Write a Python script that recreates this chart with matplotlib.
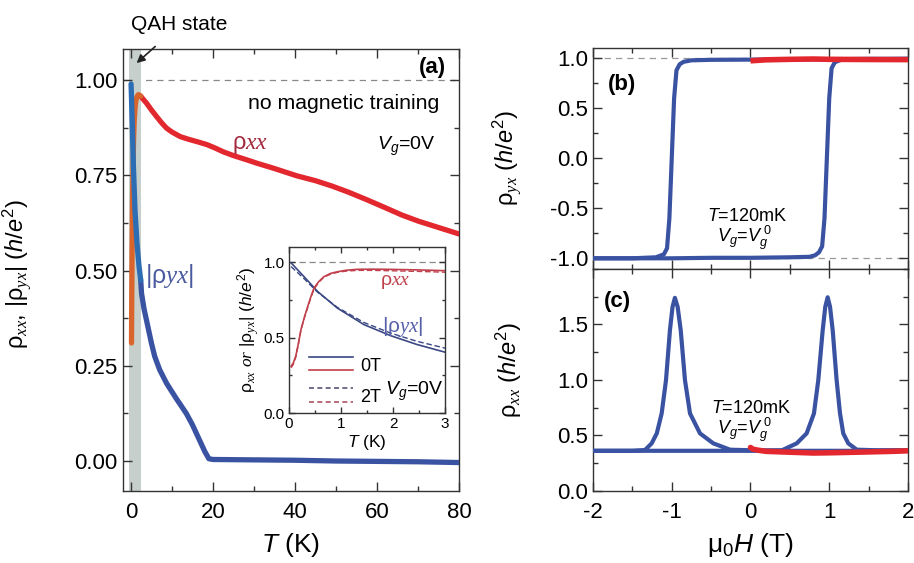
import matplotlib
matplotlib.use("Agg")
import matplotlib.pyplot as plt
import numpy as np
from matplotlib.ticker import MultipleLocator, FormatStrFormatter
from matplotlib.legend_handler import HandlerBase
from matplotlib.lines import Line2D

plt.rcParams['font.family'] = ['Liberation Sans', 'DejaVu Sans']
plt.rcParams['mathtext.fontset'] = 'custom'
plt.rcParams['mathtext.rm'] = 'Liberation Sans'
plt.rcParams['mathtext.it'] = 'Liberation Sans:italic'
plt.rcParams['mathtext.bf'] = 'Liberation Sans:bold'
plt.rcParams['mathtext.sf'] = 'Liberation Serif:italic'

# ---------------- data: panel (a) ----------------
qah_T_range = [-0.4, 2.4]
T_split = 2.4

T_xx = [0.15, 0.2, 0.3, 0.4, 0.5, 0.65, 0.8, 1.0, 1.2, 1.5, 1.8, 2.1, 2.4, 3.0, 3.8, 5.0, 6.3,
        7.5, 8.7, 10, 12, 14, 16, 18.5, 20.5, 22.5, 25, 28.2, 31, 34.7, 40.4, 45, 49, 53, 57.5,
        62, 66, 70, 75, 80]
rho_xx_T = [0.31, 0.40, 0.55, 0.68, 0.76, 0.84, 0.89, 0.925, 0.945, 0.957, 0.962, 0.961, 0.958,
            0.95, 0.94, 0.922, 0.904, 0.888, 0.874, 0.864, 0.852, 0.845, 0.839, 0.831, 0.822,
            0.812, 0.802, 0.791, 0.781, 0.769, 0.749, 0.736, 0.722, 0.706, 0.686, 0.665, 0.646,
            0.63, 0.613, 0.596]

T_yx = [0.05, 0.3, 0.6, 1.0, 1.5, 2.0, 2.4, 2.6, 3.2, 3.8, 5.0, 5.8, 7.0, 8.7, 11, 13.5, 15,
        16.5, 18, 19, 20, 30, 40, 50, 60, 70, 80]
rho_yx_T = [0.99, 0.90, 0.78, 0.66, 0.57, 0.51, 0.475, 0.44, 0.40, 0.37, 0.31, 0.275, 0.24,
            0.204, 0.165, 0.125, 0.095, 0.06, 0.025, 0.006, 0.004, 0.003, 0.002, 0.0, -0.001,
            -0.002, -0.004]

# inset (0-3 K)
T_in_xx = [0.04, 0.08, 0.13, 0.18, 0.23, 0.3, 0.36, 0.42, 0.48, 0.57, 0.67, 0.8, 0.93, 1.1,
           1.31, 1.6, 1.9, 2.5, 3.0]
xx_0T = [0.31, 0.33, 0.377, 0.46, 0.553, 0.64, 0.706, 0.77, 0.827, 0.87, 0.903, 0.925, 0.936,
         0.946, 0.952, 0.953, 0.952, 0.948, 0.943]
xx_2T = [0.30, 0.32, 0.37, 0.455, 0.55, 0.635, 0.70, 0.765, 0.82, 0.865, 0.90, 0.92, 0.932,
         0.94, 0.945, 0.945, 0.943, 0.938, 0.933]
T_in_yx = [0.04, 0.29, 0.55, 0.93, 1.44, 1.95, 2.46, 3.0]
yx_0T = [0.995, 0.903, 0.805, 0.695, 0.586, 0.513, 0.454, 0.403]
yx_2T = [0.97, 0.89, 0.80, 0.70, 0.60, 0.53, 0.475, 0.43]

# ---------------- data: panels (b), (c) ----------------
H_down_yx = [2.0, 1.5, 1.0, 0.5, 0.0, -0.5, -0.75, -0.85, -0.9, -0.94, -0.97, -1.0, -1.03,
             -1.06, -1.1, -1.2, -1.5, -2.0]
rho_yx_down = [0.995, 0.995, 0.99, 0.99, 0.987, 0.985, 0.98, 0.965, 0.94, 0.88, 0.6, 0.0, -0.6,
               -0.9, -0.96, -0.99, -1.0, -1.0]
H_up_yx = [-2.0, -1.5, -1.0, -0.5, 0.0, 0.5, 0.75, 0.82, 0.87, 0.91, 0.94, 0.97, 1.0, 1.03,
           1.07, 1.15, 1.5, 2.0]
rho_yx_up = [-1.0, -1.0, -1.0, -0.995, -0.995, -0.99, -0.985, -0.97, -0.94, -0.88, -0.6, 0.0,
             0.6, 0.9, 0.96, 0.985, 0.99, 0.995]
H_virgin_yx = [0.0, 0.2, 0.5, 0.8, 1.0, 1.5, 2.0]
rho_yx_virgin = [0.975, 0.985, 0.99, 0.993, 0.99, 0.988, 0.987]

H_down_xx = [2.0, 1.5, 1.0, 0.5, 0.0, -0.26, -0.472, -0.641, -0.768, -0.832, -0.886, -0.925,
             -0.96, -0.99, -1.023, -1.073, -1.128, -1.19, -1.255, -1.34, -1.5, -2.0]
rho_xx_down = [0.365, 0.36, 0.36, 0.36, 0.365, 0.37, 0.427, 0.517, 0.697, 0.997, 1.448, 1.658,
               1.74, 1.658, 1.448, 0.997, 0.697, 0.517, 0.427, 0.367, 0.36, 0.36]
H_up_xx = [-2.0, -1.5, -1.0, -0.5, 0.0, 0.4, 0.587, 0.713, 0.806, 0.861, 0.917, 0.95, 0.98,
           1.01, 1.044, 1.094, 1.137, 1.178, 1.242, 1.35, 1.6, 2.0]
rho_xx_up = [0.36, 0.36, 0.36, 0.36, 0.36, 0.365, 0.427, 0.517, 0.697, 0.997, 1.448, 1.66,
             1.745, 1.66, 1.448, 0.997, 0.697, 0.517, 0.427, 0.37, 0.365, 0.365]
H_virgin_xx = [0.0, 0.03, 0.1, 0.2, 0.4, 0.6, 0.8, 1.0, 1.2, 1.5, 1.8, 2.0]
rho_xx_virgin = [0.39, 0.375, 0.365, 0.355, 0.35, 0.345, 0.34, 0.342, 0.345, 0.35, 0.355, 0.36]

# ---------------- styles ----------------
BLUE = '#3a52a2'
BLUE_L = '#2c6db3'
RED = '#e2282e'
ORANGE = '#d9652c'
SPINE = '#333333'
TXT_RED = '#a3283c'
TXT_BLUE = '#4a5aa0'
IN_BLUE = '#3b4884'
IN_RED = '#c0404c'

fig = plt.figure(figsize=(9.14, 5.63), dpi=100)


def style_axes(ax, labelsize=16, major=6.5, minor=3.5):
    for s in ax.spines.values():
        s.set_color(SPINE)
        s.set_linewidth(1.0)
    ax.tick_params(which='both', direction='in', top=True, right=True, colors=SPINE,
                   labelcolor='black', labelsize=labelsize, width=1.0)
    ax.tick_params(which='major', length=major)
    ax.tick_params(which='minor', length=minor)


# ---------------- panel (a) ----------------
axa = fig.add_axes([0.1342, 0.1284, 0.3683, 0.7846])
axa.axvspan(qah_T_range[0], qah_T_range[1], color='#c6cfcb', zorder=1, lw=0)
axa.axhline(1.0, color='#888888', ls=(0, (5, 4)), lw=0.9, zorder=0)

Txx = np.array(T_xx); rxx = np.array(rho_xx_T)
Tyx = np.array(T_yx); ryx = np.array(rho_yx_T)
mlo = Txx <= T_split; mhi = Txx >= T_split
axa.plot(Txx[mhi], rxx[mhi], color=RED, lw=3.8, solid_capstyle='round',
         solid_joinstyle='round', zorder=3)
axa.plot(Txx[mlo], rxx[mlo], color=ORANGE, lw=3.8, solid_capstyle='round',
         solid_joinstyle='round', zorder=4)
mlo = Tyx <= T_split; mhi = Tyx >= T_split
axa.plot(Tyx[mhi], ryx[mhi], color=BLUE, lw=3.8, solid_capstyle='round',
         solid_joinstyle='round', zorder=3)
axa.plot(Tyx[mlo], ryx[mlo], color=BLUE_L, lw=3.8, solid_capstyle='round',
         solid_joinstyle='round', zorder=5)

axa.set_xlim(-2, 80)
axa.set_ylim(-0.078, 1.082)
axa.xaxis.set_major_locator(MultipleLocator(20))
axa.xaxis.set_minor_locator(MultipleLocator(10))
axa.yaxis.set_major_locator(MultipleLocator(0.25))
axa.yaxis.set_minor_locator(MultipleLocator(0.125))
axa.yaxis.set_major_formatter(FormatStrFormatter('%.2f'))
style_axes(axa, labelsize=16)
axa.tick_params(axis='x', pad=8)
axa.set_xlabel(r'$\mathit{T}$ (K)', fontsize=19, labelpad=6)
axa.set_ylabel(r'ρ$_{\mathsf{xx}}$, |ρ$_{\mathsf{yx}}$| ($\mathit{h/e}^{\mathrm{2}}$)',
               fontsize=17)
axa.yaxis.set_label_coords(-0.262, 0.49)

axa.text(0.962, 0.957, '(a)', transform=axa.transAxes, ha='right', va='center',
         fontsize=16, fontweight='bold')
axa.text(0.941, 0.877, 'no magnetic training', transform=axa.transAxes, ha='right',
         va='center', fontsize=15.3)
axa.text(0.324, 0.783, r'ρ$\mathsf{xx}$', transform=axa.transAxes, ha='left', va='center',
         fontsize=17, color=TXT_RED)
axa.text(0.755, 0.779, r'$\mathit{V}_{\mathit{g}}$=0V', transform=axa.transAxes, ha='left',
         va='center', fontsize=14)
axa.text(0.066, 0.485, r'|ρ$\mathsf{yx}$|', transform=axa.transAxes, ha='left', va='center',
         fontsize=18, color=TXT_BLUE)
axa.annotate('QAH state', xy=(1.4, 1.045), xytext=(11.8, 1.145), textcoords='data',
             ha='center', va='center', fontsize=15, annotation_clip=False,
             arrowprops=dict(arrowstyle='-|>', color='#222222', lw=1.2, mutation_scale=12,
                             shrinkA=10, shrinkB=0))

# ---------------- inset ----------------
axi = fig.add_axes([0.3162, 0.2664, 0.1707, 0.2949])
axi.axhline(1.0, color='#888888', ls=(0, (5, 3)), lw=0.9, zorder=0)
axi.plot(T_in_yx, yx_0T, color=IN_BLUE, lw=1.2)
axi.plot(T_in_yx, yx_2T, color=IN_BLUE, lw=1.0, ls=(0, (4, 2)))
axi.plot(T_in_xx, xx_0T, color=IN_RED, lw=1.2)
axi.plot(T_in_xx, xx_2T, color=IN_RED, lw=1.0, ls=(0, (4, 2)))
axi.set_xlim(0, 3)
axi.set_ylim(0, 1.1)
axi.xaxis.set_major_locator(MultipleLocator(1))
axi.xaxis.set_minor_locator(MultipleLocator(0.5))
axi.yaxis.set_major_locator(MultipleLocator(0.5))
axi.yaxis.set_minor_locator(MultipleLocator(0.25))
axi.yaxis.set_major_formatter(FormatStrFormatter('%.1f'))
style_axes(axi, labelsize=11, major=4, minor=2.2)
axi.tick_params(axis='both', pad=3)
axi.set_xlabel(r'$\mathit{T}$ (K)', fontsize=12.5, labelpad=1)
axi.set_ylabel(r'ρ$_{\mathsf{xx}}$ $\mathsf{or}$ |ρ$_{\mathsf{yx}}$| ($\mathit{h/e}^{\mathrm{2}}$)',
               fontsize=12.5, labelpad=2)
axi.text(0.583, 0.791, r'ρ$\mathsf{xx}$', transform=axi.transAxes, ha='left', va='center',
         fontsize=14, color=IN_RED)
axi.text(0.594, 0.52, r'|ρ$\mathsf{yx}$|', transform=axi.transAxes, ha='left', va='center',
         fontsize=15, color='#5560a8')
axi.text(0.615, 0.128, r'$\mathit{V}_{\mathit{g}}$=0V', transform=axi.transAxes, ha='left',
         va='center', fontsize=14)


class TwoLine(HandlerBase):
    def create_artists(self, legend, orig_handle, xdescent, ydescent, width, height,
                       fontsize, trans):
        c1, c2, ls = orig_handle
        l1 = Line2D([-xdescent, -xdescent + width], [height * 0.95] * 2, color=c1, ls=ls,
                    lw=1.2)
        l2 = Line2D([-xdescent, -xdescent + width], [height * 0.05] * 2, color=c2, ls=ls,
                    lw=1.2)
        l1.set_transform(trans)
        l2.set_transform(trans)
        return [l1, l2]


h0 = (IN_BLUE, IN_RED, '-')
h2 = ('#555577', '#aa5566', (0, (3, 2)))
axi.legend([h0, h2], ['0T', '2T'], handler_map={tuple: TwoLine()}, loc='lower left',
           bbox_to_anchor=(0.13, 0.04), frameon=False, fontsize=13, handlelength=2.4,
           handleheight=0.9, labelspacing=0.75, handletextpad=0.4, borderpad=0,
           borderaxespad=0)

# ---------------- panel (b) ----------------
axb = fig.add_axes([0.6488, 0.5222, 0.3446, 0.3925])
axb.axhline(1.0, color='#999999', ls=(0, (5, 4)), lw=0.9, zorder=0)
axb.axhline(-1.0, color='#999999', ls=(0, (5, 4)), lw=0.9, zorder=0)
axb.plot(H_down_yx, rho_yx_down, color=BLUE, lw=3.0, solid_capstyle='round',
         solid_joinstyle='round', zorder=3)
axb.plot(H_up_yx, rho_yx_up, color=BLUE, lw=3.0, solid_capstyle='round',
         solid_joinstyle='round', zorder=3)
axb.plot(H_virgin_yx, rho_yx_virgin, color=RED, lw=4.0, solid_capstyle='butt', zorder=4)
axb.set_xlim(-2, 2)
axb.set_ylim(-1.107, 1.103)
axb.xaxis.set_major_locator(MultipleLocator(1))
axb.xaxis.set_minor_locator(MultipleLocator(0.5))
axb.yaxis.set_major_locator(MultipleLocator(0.5))
axb.yaxis.set_minor_locator(MultipleLocator(0.25))
axb.yaxis.set_major_formatter(FormatStrFormatter('%.1f'))
style_axes(axb, labelsize=16)
axb.tick_params(axis='x', labelbottom=False)
axb.set_ylabel(r'ρ$_{\mathsf{yx}}$ ($\mathit{h/e}^{\mathrm{2}}$)', fontsize=17)
axb.yaxis.set_label_coords(-0.22, 0.5)
axb.text(0.048, 0.833, '(b)', transform=axb.transAxes, ha='left', va='center', fontsize=16,
         fontweight='bold')
axb.text(0.491, 0.237, r'$\mathit{T}$=120mK', transform=axb.transAxes, ha='center',
         va='center', fontsize=13)
axb.text(0.483, 0.139, r'$\mathit{V}_{\mathit{g}}$=$\mathit{V}_{\mathit{g}}^{\ \mathit{0}}$',
         transform=axb.transAxes, ha='center', va='center', fontsize=13)

# ---------------- panel (c) ----------------
axc = fig.add_axes([0.6488, 0.1284, 0.3446, 0.3938])
axc.plot(H_down_xx, rho_xx_down, color=BLUE, lw=3.0, solid_capstyle='round',
         solid_joinstyle='round', zorder=3)
axc.plot(H_up_xx, rho_xx_up, color=BLUE, lw=3.0, solid_capstyle='round',
         solid_joinstyle='round', zorder=3)
axc.plot(H_virgin_xx, rho_xx_virgin, color=RED, lw=4.0, solid_capstyle='round', zorder=4)
axc.set_xlim(-2, 2)
axc.set_ylim(0, 2.0)
axc.set_yticks([0.0, 0.5, 1.0, 1.5])
axc.xaxis.set_major_locator(MultipleLocator(1))
axc.xaxis.set_minor_locator(MultipleLocator(0.5))
axc.yaxis.set_minor_locator(MultipleLocator(0.25))
axc.yaxis.set_major_formatter(FormatStrFormatter('%.1f'))
axc.xaxis.set_major_formatter(FormatStrFormatter('%d'))
style_axes(axc, labelsize=16)
axc.tick_params(axis='x', pad=8)
axc.set_xlabel(r'μ$_{\mathrm{0}}\mathit{H}$ (T)', fontsize=19, labelpad=6)
axc.set_ylabel(r'ρ$_{\mathsf{xx}}$ ($\mathit{h/e}^{\mathrm{2}}$)', fontsize=17)
axc.yaxis.set_label_coords(-0.22, 0.544)
axc.text(0.033, 0.852, '(c)', transform=axc.transAxes, ha='left', va='center', fontsize=16,
         fontweight='bold')
axc.text(0.502, 0.372, r'$\mathit{T}$=120mK', transform=axc.transAxes, ha='center',
         va='center', fontsize=13)
axc.text(0.483, 0.274, r'$\mathit{V}_{\mathit{g}}$=$\mathit{V}_{\mathit{g}}^{\ \mathit{0}}$',
         transform=axc.transAxes, ha='center', va='center', fontsize=13)

fig.savefig('out.png', dpi=100)
